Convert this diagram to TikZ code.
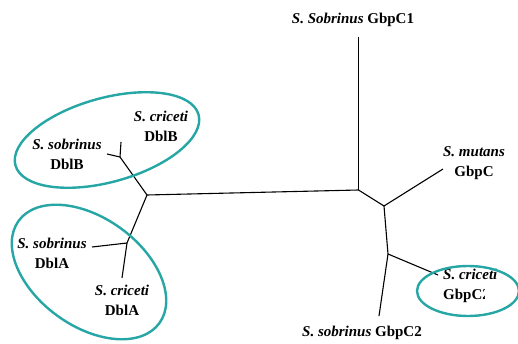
\documentclass[tikz,border=0pt]{standalone}
\usepackage{fontspec}
\setmainfont{Liberation Serif}
\usetikzlibrary{positioning}
\definecolor{cladeteal}{RGB}{38,166,164}
\tikzset{
  taxon/.style={align=center, inner sep=0pt, font=\fontsize{15}{20}\selectfont\bfseries},
  branch/.style={draw=black, line width=1.1pt},
  clade/.style={draw=cladeteal, line width=2.4pt},
}

\begin{document}
\begin{tikzpicture}[x=1pt, y=-1pt]
        \useasboundingbox (0,0) rectangle (518,344);

        % inner nodes of the tree
        \coordinate (L) at (147,195);
        \coordinate (R) at (358.5,190);
        \coordinate (M) at (384,206);
        \coordinate (N) at (388,254);
        \coordinate (B) at (120,157);
        \coordinate (A) at (127,243);

        % ends of the leaves
        \coordinate (crB) at (121,142);
        \coordinate (soB) at (107,154);
        \coordinate (soA) at (92,247);
        \coordinate (crA) at (122,278);
        \coordinate (soC1) at (358.5,37);
        \coordinate (muC) at (443,169);
        \coordinate (crC) at (438,275);
        \coordinate (soC2) at (379,316);

        \draw[branch] (L) to (R);
        \draw[branch] (L) to (B);
        \draw[branch] (L) to (A);
        \draw[branch] (B) to (crB);
        \draw[branch] (B) to (soB);
        \draw[branch] (A) to (soA);
        \draw[branch] (A) to (crA);
        \draw[branch] (R) to (soC1);
        \draw[branch] (R) to (M);
        \draw[branch] (M) to (muC);
        \draw[branch] (M) to (N);
        \draw[branch] (N) to (crC);
        \draw[branch] (N) to (soC2);

        \node[taxon] (t1) at (353,20) {\textit{S. Sobrinus} GbpC1};
        \node[taxon] (t2) at (474,163) {\textit{S. mutans}\\ GbpC};
        \node[taxon] (t3) at (362,333) {\textit{S. sobrinus} GbpC2};
        \node[taxon] (t4) at (161,126.5) {\textit{S. criceti}\\ DblB};
        \node[taxon] (t5) at (67,154) {\textit{S. sobrinus}\\ DblB};
        \node[taxon] (t6) at (52,253) {\textit{S. sobrinus}\\ DblA};
        \node[taxon] (t7) at (122,300) {\textit{S. criceti}\\ DblA};
        \begin{scope}
            % the second line is cut off in the figure
            \clip (440,260) rectangle (512,286) (440,286) rectangle (484.5,312);
            \node[taxon, align=left, anchor=west] (t8) at (443,286)
                {\textit{S. criceti}\\ GbpC2};
        \end{scope}

        % clades
        \draw[clade, rotate around={15.5:(107,140)}] (107,140) ellipse [x radius=95, y radius=42];
        \draw[clade, rotate around={-36:(89,272)}] (89,272) ellipse [x radius=87, y radius=54];
        \draw[clade] (468,291) ellipse [x radius=51, y radius=25];

\end{tikzpicture}
\end{document}
